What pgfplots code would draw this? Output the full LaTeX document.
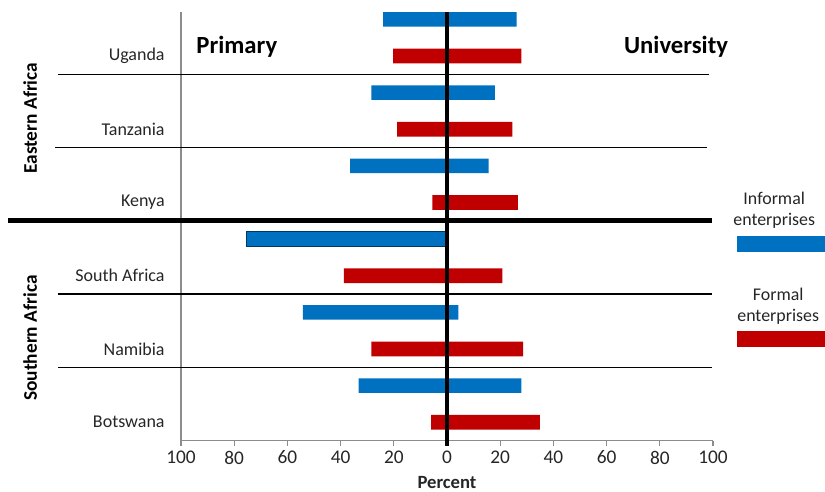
\documentclass[border=0pt]{standalone}
\usepackage{pgfplots}
\pgfplotsset{compat=1.18}
\usepackage{fontspec}
\setmainfont{Carlito}
\definecolor{blu}{HTML}{0070C0}
\definecolor{rd}{HTML}{C00000}
\begin{document}
\begin{tikzpicture}
\begin{axis}[
  scale only axis, width=399pt, height=321.4pt,
  xmin=-100, xmax=100, ymin=0, ymax=5.85,
  clip=false,
  axis x line*=bottom, axis y line*=left,
  axis line style={black!45, line width=0.8pt},
  xtick={-100,-80,...,100},
  xticklabels={100,80,60,40,20,0,20,40,60,80,100},
  ytick={0.25,1.25,2.25,3.25,4.25,5.25},
  yticklabels={Botswana,Namibia,South Africa,Kenya,Tanzania,Uganda},
  tick align=outside,
  xtick style={black!45, line width=0.8pt},
  x tick style={/pgfplots/major tick length=4pt},
  ytick style={draw=none},
  /pgf/number format/assume math mode=true,
  xticklabel style={font=\fontsize{14.5}{17}\selectfont, text=black!85},
  yticklabel style={font=\fontsize{13.5}{16}\selectfont, text=black!85, xshift=-4.5pt},
]
% Informal enterprises (blue): Primary (left, negative), University (right)
\addplot[xbar, bar width=0.2, bar shift=0pt, fill=blu, draw=none] coordinates {
  (-24.0,5.75) (26.2,5.75)
  (-28.4,4.75) (18.0,4.75)
  (-36.4,3.75) (15.6,3.75)
  (-54.2,1.75) (4.3,1.75)
  (-33.2,0.75) (28.0,0.75)
};
\addplot[xbar, bar width=0.2, bar shift=0pt, fill=blu, draw=blu!50!black, line width=0.5pt] coordinates {
  (-75.5,2.75)
};
% Formal enterprises (red)
\addplot[xbar, bar width=0.2, bar shift=0pt, fill=rd, draw=none] coordinates {
  (-20.3,5.25) (28.0,5.25)
  (-18.8,4.25) (24.6,4.25)
  (-5.5,3.25) (26.6,3.25)
  (-38.8,2.25) (20.8,2.25)
  (-28.4,1.25) (28.6,1.25)
  (-6.0,0.25) (34.9,0.25)
};
% separators
\draw[line width=1.1pt] (axis cs:-146.2,5) -- (axis cs:98.5,5);
\draw[line width=1.1pt] (axis cs:-147.3,4) -- (axis cs:97.7,4);
\draw[line width=1.1pt] (axis cs:-146.2,2) -- (axis cs:99.6,2);
\draw[line width=1.1pt] (axis cs:-146.2,1) -- (axis cs:99.6,1);
\draw[line width=3.5pt] (axis cs:-164.9,3) -- (axis cs:99.6,3);
\draw[line width=3pt] (axis cs:0,5.85) -- (axis cs:0,-0.07);
% titles
\node[font=\bfseries\fontsize{18.5}{22}\selectfont] at (axis cs:-79,5.37) {Primary};
\node[font=\bfseries\fontsize{18.5}{22}\selectfont] at (axis cs:86.1,5.37) {University};
\node[font=\bfseries\fontsize{14.5}{17}\selectfont, rotate=90] at (axis cs:-156.7,4.40) {Eastern Africa};
\node[font=\bfseries\fontsize{14.5}{17}\selectfont, rotate=90] at (axis cs:-156.7,1.40) {Southern Africa};
\node[font=\bfseries\fontsize{14}{17}\selectfont, text=black!85] at (axis cs:0,-0.567) {Percent};
% legend
\node[font=\fontsize{13.4}{15.5}\selectfont, align=center, text=black!85] at (axis cs:123,3.147) {Informal\\enterprises};
\fill[blu] (axis cs:109,2.573) rectangle (axis cs:142.1,2.792);
\node[font=\fontsize{13.4}{15.5}\selectfont, align=center, text=black!85] at (axis cs:124.5,1.836) {Formal\\enterprises};
\fill[rd] (axis cs:109,1.276) rectangle (axis cs:142.1,1.495);
\coordinate (bbsw) at (axis cs:-168.05,-0.689);
\coordinate (bbne) at (axis cs:142.1,6.014);
\end{axis}
\pgfresetboundingbox
\useasboundingbox (bbsw) rectangle (bbne);
\end{tikzpicture}
\end{document}
